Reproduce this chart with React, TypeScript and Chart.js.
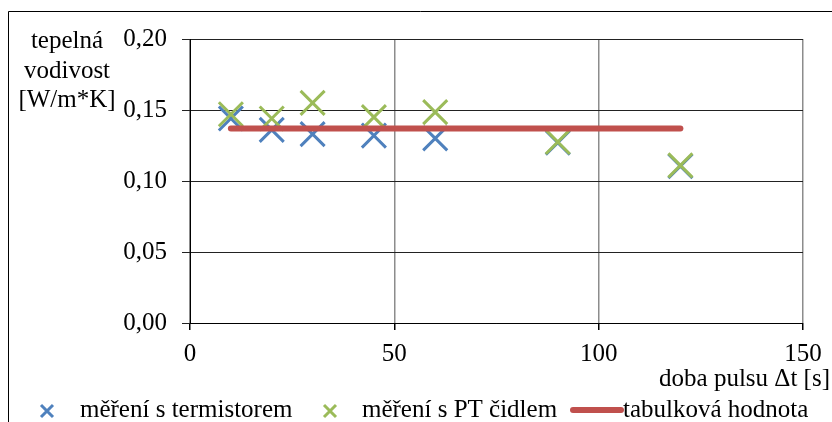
import React, { useEffect, useRef } from "react";
import { Chart, registerables } from "chart.js";

Chart.register(...registerables);

const pulseTimes = [10, 20, 30, 45, 60, 90, 120];
const termistorValues = [0.144, 0.136, 0.133, 0.132, 0.130, 0.127, 0.1105];
const ptValues = [0.147, 0.144, 0.155, 0.145, 0.1485, 0.1275, 0.111];
const tableTimes = [10, 120];
const tableValues = [0.137, 0.137];
const xTicks = [0, 50, 100, 150];
const yTicks = [0, 0.05, 0.1, 0.15, 0.2];

const seriesLabels = ["měření s termistorem", "měření s PT čidlem", "tabulková hodnota"];
const yTitleLines = ["tepelná", "vodivost", "[W/m*K]"];
const xTitle = "doba pulsu Δt [s]";

const BLUE = "#4F81BD";
const GREEN = "#9BBB59";
const RED = "#C0504D";
const FONT = "'Liberation Serif', 'Times New Roman', serif";
const FSIZE = 25;

const decorPlugin = {
  id: "decor",
  afterDraw(chart: any) {
    const ctx = chart.ctx as CanvasRenderingContext2D;
    ctx.save();
    // outer frame
    ctx.strokeStyle = "#000";
    ctx.lineWidth = 1;
    ctx.beginPath();
    ctx.moveTo(8.5, 422);
    ctx.lineTo(8.5, 11.5);
    ctx.lineTo(832, 11.5);
    ctx.stroke();

    ctx.fillStyle = "#000";
    ctx.font = `${FSIZE}px ${FONT}`;
    ctx.textBaseline = "alphabetic";
    ctx.textAlign = "center";
    const baselines = [48, 78, 107];
    yTitleLines.forEach((t, i) => ctx.fillText(t, 67, baselines[i]));

    ctx.textAlign = "right";
    ctx.fillText(xTitle, 830, 386);

    // legend
    const ly = 411;
    ctx.textAlign = "left";
    const drawX = (cx: number, color: string) => {
      ctx.strokeStyle = color;
      ctx.lineWidth = 3;
      ctx.beginPath();
      ctx.moveTo(cx - 6, ly - 6);
      ctx.lineTo(cx + 6, ly + 6);
      ctx.moveTo(cx - 6, ly + 6);
      ctx.lineTo(cx + 6, ly - 6);
      ctx.stroke();
    };
    drawX(47, BLUE);
    ctx.fillText(seriesLabels[0], 80, 417);
    drawX(330, GREEN);
    ctx.fillText(seriesLabels[1], 362, 417);
    ctx.strokeStyle = RED;
    ctx.lineWidth = 6;
    ctx.lineCap = "round";
    ctx.beginPath();
    ctx.moveTo(573, 410);
    ctx.lineTo(621, 410);
    ctx.stroke();
    ctx.fillText(seriesLabels[2], 623, 417);
    ctx.restore();
  },
};

export default function App() {
  const ref = useRef<HTMLCanvasElement>(null);
  useEffect(() => {
    if (!ref.current) return;
    const chart = new Chart(ref.current, {
      type: "scatter",
      data: {
        datasets: [
          {
            label: seriesLabels[0],
            data: pulseTimes.map((x, i) => ({ x, y: termistorValues[i] })),
            pointStyle: "crossRot",
            pointRadius: 17,
            pointBorderWidth: 3,
            borderColor: BLUE,
            backgroundColor: BLUE,
            order: 2,
          },
          {
            label: seriesLabels[1],
            data: pulseTimes.map((x, i) => ({ x, y: ptValues[i] })),
            pointStyle: "crossRot",
            pointRadius: 17,
            pointBorderWidth: 3,
            borderColor: GREEN,
            backgroundColor: GREEN,
            order: 1,
          },
          {
            label: seriesLabels[2],
            data: tableTimes.map((x, i) => ({ x, y: tableValues[i] })),
            showLine: true,
            pointRadius: 0,
            borderWidth: 6,
            borderColor: RED,
            backgroundColor: RED,
            borderCapStyle: "round",
            order: 0,
          } as any,
        ],
      },
      options: {
        animation: false,
        responsive: false,
        devicePixelRatio: 1,
        layout: { padding: { left: 0, top: 39, right: 29, bottom: 0 } },
        plugins: { legend: { display: false }, tooltip: { enabled: false } },
        scales: {
          x: {
            type: "linear",
            min: 0,
            max: 150,
            afterFit: (s: any) => { s.height = 99; },
            afterBuildTicks: (s: any) => { s.ticks = xTicks.map((v) => ({ value: v })); },
            ticks: {
              font: { family: FONT, size: FSIZE },
              color: "#000",
              padding: 9,
              maxRotation: 0,
            },
            grid: { color: "#8c8c8c", lineWidth: 1.5, tickColor: "#000", tickLength: 7 },
            border: { color: "#000", width: 1 },
          },
          y: {
            type: "linear",
            min: 0,
            max: 0.2,
            afterFit: (s: any) => { s.width = 190; },
            afterBuildTicks: (s: any) => { s.ticks = yTicks.map((v) => ({ value: v })); },
            ticks: {
              font: { family: FONT, size: FSIZE },
              color: "#000",
              padding: 15,
              callback: (v: any) => Number(v).toFixed(2).replace(".", ","),
            },
            grid: { color: "#222", lineWidth: 1, tickColor: "#222", tickLength: 8 },
            border: { color: "#000", width: 1 },
          },
        },
      },
      plugins: [decorPlugin],
    });
    return () => chart.destroy();
  }, []);
  return (
    <div style={{ position: "fixed", left: 0, top: 0, width: 832, height: 422, background: "#fff" }}>
      <canvas ref={ref} width={832} height={422} style={{ display: "block", width: 832, height: 422 }} />
    </div>
  );
}
